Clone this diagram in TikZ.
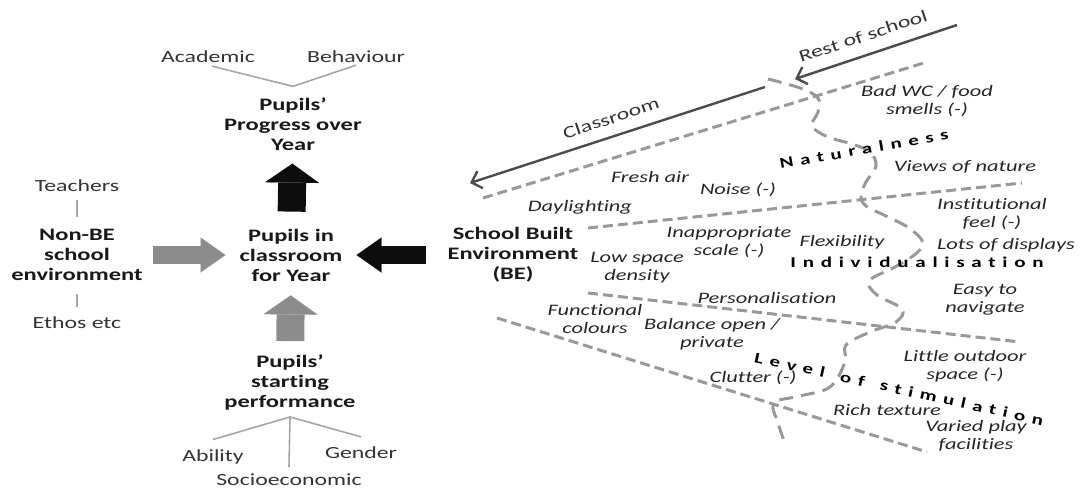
\documentclass[tikz,border=0pt]{standalone}
\usepackage{fontspec}
\setmainfont{Carlito}[FakeStretch=1.4, Ligatures={TeX,NoCommon}]
\usetikzlibrary{arrows.meta}

\begin{document}
\begin{tikzpicture}[
    x = 1pt,
    y = -1pt,
    %scale = 1,
    %transform shape,
    box/.style = {font = {\fontsize{17.5}{20}\selectfont\bfseries}, align = center, text = black!90, inner sep = 2pt},
    item/.style = {font = {\fontsize{17}{20}\selectfont}, text = black!80, inner sep = 2pt},
    factor/.style = {font = {\fontsize{16}{18}\selectfont\itshape}, align = center, text = black!85, inner sep = 1pt},
    theme/.style = {font = {\fontsize{15}{18}\selectfont\bfseries\addfontfeature{LetterSpace = 45}}, text = black, inner sep = 1pt},
    treeline/.style = {draw = black!35, line width = 1.6pt},
    blockv/.style = {line width = 28pt, -{Triangle[length = 19pt, width = 54pt, line width = 0.1pt]}},
    blockh/.style = {line width = 18pt, -{Triangle[length = 25pt, width = 35pt, line width = 0.1pt]}},
    blackfill/.style = {color = black!95},
    greyfill/.style = {color = black!45},
    divider/.style = {draw = black!40, line width = 3pt, dash pattern = on 10pt off 5pt},
    wave/.style = {divider, dash pattern = on 14pt off 8pt},
    pointer/.style = {draw = black!70, line width = 2.4pt, -{Straight Barb[length = 9pt, width = 18pt]}}
  ]
  \useasboundingbox (0,0) rectangle (1080,488);

  % Main boxes
  \node[box] (progress) at (293,124) {Pupils'\\Progress over\\Year};
  \node[box] (inclass)  at (291,255) {Pupils in\\classroom\\for Year};
  \node[box] (nonbe)    at (77,255)  {Non-BE\\school\\environment};
  \node[box] (start)    at (290,383) {Pupils'\\starting\\performance};
  \node[box] (be)       at (513,255) {School Built\\Environment\\(BE)};

  % Sub items
  \node[item] (academic)  at (208,57)  {Academic};
  \node[item] (behaviour) at (356,57)  {Behaviour};
  \node[item] (teachers)  at (77,186)  {Teachers};
  \node[item] (ethos)     at (77,323)  {Ethos etc};
  \node[item] (ability)   at (213,457) {Ability};
  \node[item] (gender)    at (361,453) {Gender};
  \node[item] (socio)     at (289,480) {Socioeconomic};

  \draw[treeline, shorten <= 4pt] (academic.south) -- ([yshift = 9pt]progress.north) -- (behaviour.south);
  \draw[treeline, shorten <= 10pt, shorten >= 6pt] (nonbe.north) -- (nonbe.north |- teachers.south);
  \draw[treeline, shorten <= 11pt, shorten >= 8pt] (nonbe.south) -- (nonbe.south |- ethos.north);
  \coordinate (startjoin) at ([yshift = -4pt]start.south);
  \draw[treeline] (startjoin) -- ([yshift = 8pt]ability.north);
  \draw[treeline] (startjoin) -- ([yshift = 8pt]gender.north);
  \draw[treeline] (startjoin) -- ([yshift = 5pt]socio.north);

  % Block arrows
  \draw[blockv, blackfill, shorten <= 15pt, shorten >= 11pt] (inclass) -- (progress);
  \draw[blockv, greyfill, shorten <= 12pt, shorten >= 12pt] (start) -- (inclass);
  \draw[blockh, greyfill, shorten <= 8pt, shorten >= 12pt] (nonbe) -- (inclass);
  \draw[blockh, blackfill, shorten <= 19pt, shorten >= 12pt] (be) -- (inclass);

  % Classroom / rest of school
  \coordinate (classfrom) at (765,87);
  \coordinate (classto)   at (470,183);
  \coordinate (restfrom)  at (957,25);
  \coordinate (restto)    at (795,79);
  \draw[pointer] (classfrom) -- (classto);
  \draw[pointer] (restfrom) -- (restto);
  \node[item, rotate = 18] (classroom) at (611,118) {Classroom};
  \node[item, rotate = 18.4] (restofschool) at (863,36) {Rest of school};

  % Dividers
  \draw[divider] (483,198) -- (927,62);
  \draw[divider] (588,228) -- (1022,183);
  \draw[divider] (588,293) -- (1020,342);
  \draw[divider] (497,318) -- (927,452);
  \draw[wave] plot[smooth, tension = 0.6] coordinates {
    (768,79) (800,88) (818,98) (818,112) (812,126) (828,137) (852,144)
    (870,152) (876,166) (866,182) (861,196) (866,206) (886,216) (909,228)
    (923,243) (913,256) (893,268) (869,281) (877,295) (902,309) (896,322)
    (870,332) (846,345) (845,362) (830,387) (800,396) (774,403) (778,423) (786,446)};

  % Themes
  \node[theme, rotate = 10] (naturalness) at (864,149) {Naturalness};
  \node[theme] (individualisation) at (917,262) {Individualisation};
  \node[theme, rotate = -12.4] (stimulation) at (899,389) {Level\hspace{16pt}of\hspace{16pt}stimulation};

  % Labels
  \begin{scope}[nodes = {factor}]
    \node (badwc)     at (927,101) {Bad WC / food\\smells (-)};
    \node (freshair)  at (650,177) {Fresh air};
    \node (noise)     at (738,190) {Noise (-)};
    \node (views)     at (965,167) {Views of nature};
    \node (daylight)  at (580,207) {Daylighting};
    \node (institute) at (992,214) {Institutional\\feel (-)};
    \node (scale)     at (729,242) {Inappropriate\\scale (-)};
    \node (flex)      at (842,242) {Flexibility};
    \node (displays)  at (1006,245) {Lots of displays};
    \node (density)   at (637,268) {Low space\\density};
    \node (personal)  at (767,298) {Personalisation};
    \node (navigate)  at (985,300) {Easy to\\navigate};
    \node (colours)   at (595,319) {Functional\\colours};
    \node (balance)   at (712,334) {Balance open /\\private};
    \node (outdoor)   at (965,366) {Little outdoor\\space (-)};
    \node (clutter)   at (753,378) {Clutter (-)};
    \node (texture)   at (887,410) {Rich texture};
    \node (play)      at (976,436) {Varied play\\facilities};
  \end{scope}
\end{tikzpicture}
\end{document}
